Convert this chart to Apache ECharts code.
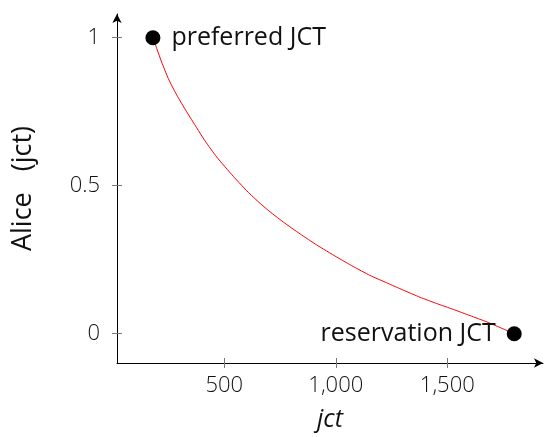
<!DOCTYPE html>
<html>
<head>
<meta charset="utf-8">
<script src="https://cdn.jsdelivr.net/npm/echarts@6/dist/echarts.min.js"></script>
<style>
  html, body { margin: 0; padding: 0; background: #fff; }
  #chart { width: 548px; height: 437px; }
</style>
</head>
<body>
<div id="chart"></div>
<script>
// Curve from the preferred job completion time down to the reservation one
const curveX = [180, 197, 219, 249, 287, 331, 376, 413, 466, 540, 615, 690, 765, 840, 914,
                1004, 1078, 1153, 1228, 1303, 1378, 1452, 1527, 1602, 1677, 1751, 1800];
const curveY = [1, 0.964, 0.918, 0.862, 0.806, 0.75, 0.696, 0.652, 0.597, 0.532, 0.472, 0.421, 0.377, 0.337, 0.300,
                0.259, 0.227, 0.197, 0.172, 0.147, 0.123, 0.102, 0.082, 0.061, 0.040, 0.016, 0];

// Marked end points
const pointNames = ['preferred JCT', 'reservation JCT'];
const pointX = [180, 1800];
const pointY = [1, 0];

// Tick values
const xTicks = [500, 1000, 1500];
const yTicks = [0, 0.5, 1];

const FONT = '"Open Sans", "DejaVu Sans", sans-serif';
const TEXT = '#111';

const chart = echarts.init(document.getElementById('chart'), null, { renderer: 'canvas' });

const xRange = { min: 19, max: 1929 };
const yRange = { min: -0.099, max: 1.08 };

chart.setOption({
  animation: false,
  backgroundColor: '#fff',
  grid: { left: 117, right: 5, top: 14, bottom: 73.3 },
  xAxis: [
    {
      type: 'value',
      min: xRange.min, max: xRange.max,
      name: 'jct',
      nameLocation: 'middle',
      nameGap: 44,
      nameTextStyle: { fontFamily: FONT, fontSize: 25, fontStyle: 'italic', color: TEXT },
      axisLine: { show: true, onZero: false, lineStyle: { color: '#000', width: 1 }, symbol: ['none', 'arrow'], symbolSize: [7, 9] },
      axisTick: { show: true, length: 5, lineStyle: { color: '#777' }, customValues: xTicks },
      axisLabel: {
        show: true, margin: 12, customValues: xTicks,
        fontFamily: FONT, fontSize: 22, fontWeight: 300, color: TEXT,
        formatter: v => v.toLocaleString('en-US')
      },
      splitLine: { show: false }
    },
    {
      type: 'value',
      position: 'bottom',
      min: xRange.min, max: xRange.max,
      axisLine: { show: false, onZero: false },
      axisTick: { show: true, inside: true, length: 5, lineStyle: { color: '#777' }, customValues: xTicks },
      axisLabel: { show: false },
      splitLine: { show: false }
    }
  ],
  yAxis: [
    {
      type: 'value',
      min: yRange.min, max: yRange.max,
      name: 'Alice   (jct)',
      nameLocation: 'middle',
      nameGap: 80,
      nameTextStyle: { fontFamily: FONT, fontSize: 27, color: TEXT },
      axisLine: { show: true, onZero: false, lineStyle: { color: '#000', width: 1 }, symbol: ['none', 'arrow'], symbolSize: [7, 9] },
      axisTick: { show: true, length: 5, lineStyle: { color: '#777' }, customValues: yTicks },
      axisLabel: {
        show: true, margin: 17, customValues: yTicks,
        fontFamily: FONT, fontSize: 22, fontWeight: 300, color: TEXT,
        formatter: v => String(v)
      },
      splitLine: { show: false }
    },
    {
      type: 'value',
      position: 'left',
      min: yRange.min, max: yRange.max,
      axisLine: { show: false, onZero: false },
      axisTick: { show: true, inside: true, length: 5, lineStyle: { color: '#777' }, customValues: yTicks },
      axisLabel: { show: false },
      splitLine: { show: false }
    }
  ],
  series: [
    {
      type: 'line',
      xAxisIndex: 0, yAxisIndex: 0,
      data: curveX.map((x, i) => [x, curveY[i]]),
      smooth: 0.2,
      showSymbol: false,
      lineStyle: { color: '#ff0000', width: 1 },
      z: 2
    },
    {
      type: 'scatter',
      xAxisIndex: 0, yAxisIndex: 0,
      symbol: 'circle',
      symbolSize: 15,
      itemStyle: { color: '#000', opacity: 1 },
      data: pointNames.map((n, i) => ({
        name: n,
        value: [pointX[i], pointY[i]],
        label: {
          show: true,
          formatter: n,
          position: i === 0 ? 'right' : 'left',
          distance: 11,
          fontFamily: FONT, fontSize: 25, color: TEXT
        }
      })),
      z: 3
    }
  ]
});
</script>
</body>
</html>
